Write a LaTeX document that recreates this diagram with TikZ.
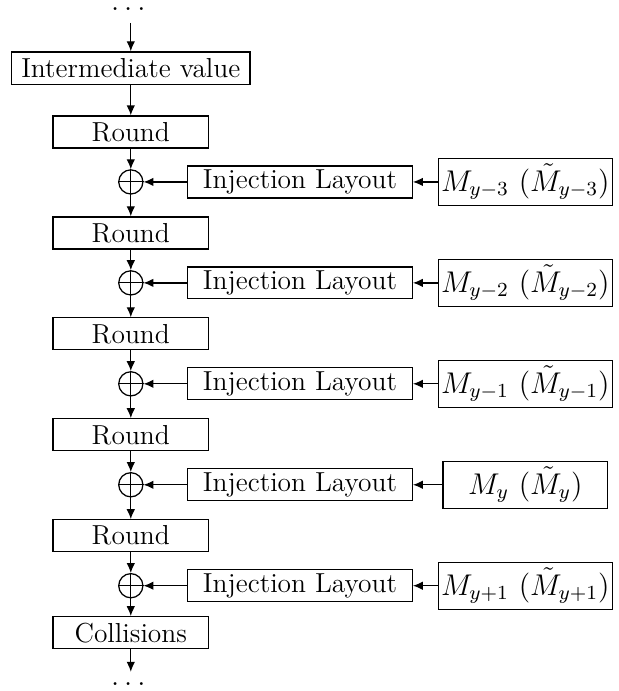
\documentclass[tikz,border=0pt]{standalone}
\usepackage{amsmath,amssymb}
\usepackage{tikz}
\usetikzlibrary{arrows.meta,positioning}

\begin{document}
\begin{tikzpicture}[
  blk/.style={draw, line width=0.5pt, minimum height=4.5mm, inner sep=1pt, font=\fontsize{11}{13}\selectfont},
  rnd/.style={blk, minimum width=21.9mm},
  inj/.style={blk, minimum width=31.6mm},
  msg/.style={blk, minimum width=23.2mm, minimum height=6.6mm, font=\large},
  xo/.style={draw, line width=0.5pt, circle, minimum size=3.4mm, inner sep=0pt},
  flow/.style={line width=0.5pt, -{Latex[length=1.4mm,width=1.2mm]}}
]
\useasboundingbox (0,0) rectangle (8.70,-9.72);

%============ TOP ============
\node[inner sep=1pt, anchor=base, font=\large] (dtop) at (1.84,-0.15) {$\dots$};
\coordinate (dstart) at (1.84,-0.32);
\node[blk, minimum width=33.5mm, minimum height=4.6mm] (iv) at (1.84,-0.96) {Intermediate value};
\draw[flow] (dstart) -- (iv);

%============ ROUNDS ============
\foreach \i/\s in {1/y-3, 2/y-2, 3/y-1, 4/y, 5/y+1} {
  \node[rnd] (rd\i) at (1.84,-1.856-1.42*\i+1.42) {Round};
  \node[xo] (xo\i) at (1.84,-2.559-1.42*\i+1.42) {};
  \draw (xo\i.north) -- (xo\i.south) (xo\i.west) -- (xo\i.east);
  \node[inj] (inj\i) at (4.22,-2.559-1.42*\i+1.42) {Injection Layout};
  \node[msg] (msg\i) at (7.39,-2.559-1.42*\i+1.42) {$M_{\s}$ ($\tilde{M}_{\s}$)};
  \draw[flow] (rd\i) -- (xo\i);
  \draw[flow] (inj\i) -- (xo\i);
  \draw[flow] (msg\i) -- (inj\i);
}
\draw[flow] (iv) -- (rd1);
\foreach \i [evaluate=\i as \j using int(\i+1)] in {1,...,4}
  \draw[flow] (xo\i) -- (rd\j);

%============ BOTTOM ============
\node[rnd] (coll) at (1.84,-8.90) {Collisions};
\coordinate (dend) at (1.84,-9.45);
\node[inner sep=1pt, anchor=base, font=\large] (dbot) at (1.84,-9.64) {$\dots$};
\draw[flow] (xo5) -- (coll);
\draw[flow] (coll) -- (dend);
\end{tikzpicture}
\end{document}
